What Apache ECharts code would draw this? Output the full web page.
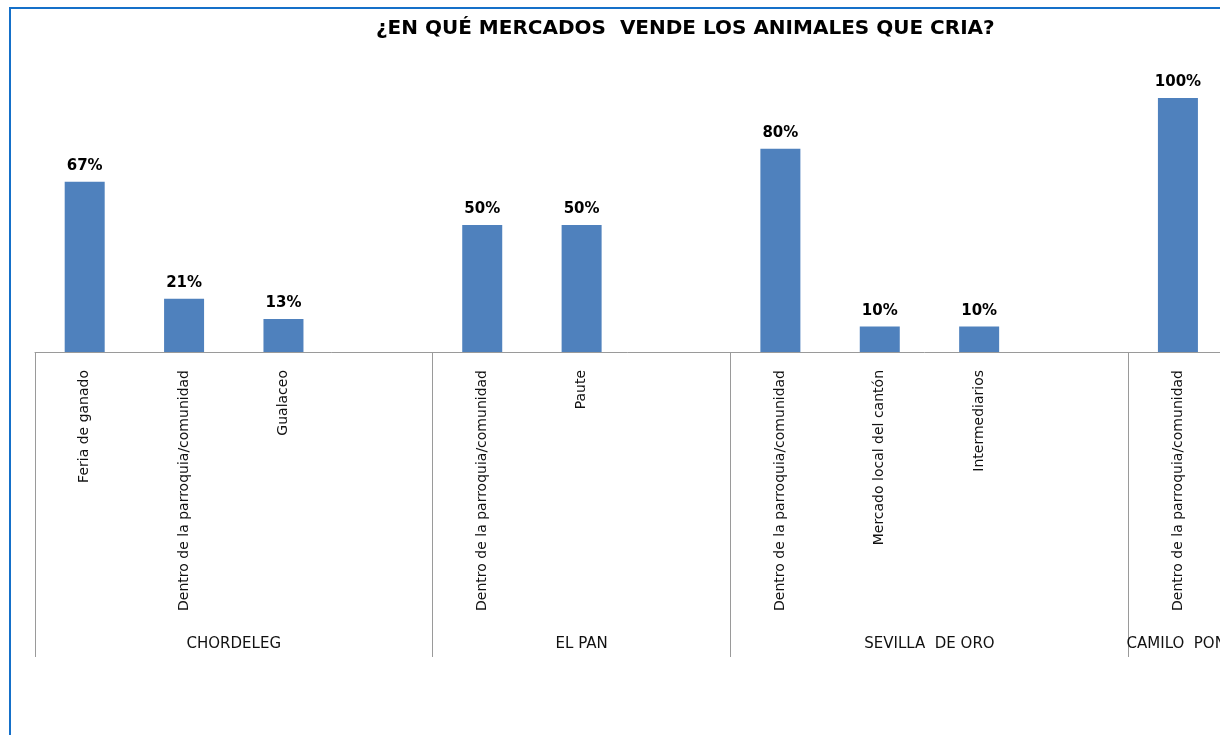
<!DOCTYPE html>
<html><head><meta charset="utf-8">
<script src="https://cdn.jsdelivr.net/npm/echarts@6/dist/echarts.min.js"></script>
<style>html,body{margin:0;padding:0;background:#fff}#c{width:1220px;height:735px}</style>
</head><body><div id="c"></div>
<script>
const titleText = '¿EN QUÉ MERCADOS  VENDE LOS ANIMALES QUE CRIA?';
const categories = [
  'Feria de ganado', 'Dentro de la parroquia/comunidad', 'Gualaceo', '',
  'Dentro de la parroquia/comunidad', 'Paute', '',
  'Dentro de la parroquia/comunidad', 'Mercado local del cantón', 'Intermediarios', '',
  'Dentro de la parroquia/comunidad', ''
];
const values = [67, 21, 13, null, 50, 50, null, 80, 10, 10, null, 100, null];
const groups = ['CHORDELEG', 'EL PAN', 'SEVILLA  DE ORO', 'CAMILO  PONCE ENRIQUEZ'];
const groupSpans = [4, 3, 4, 2];

const N = categories.length;
const boundaryIdx = new Set();
const centerIdx = {};
let acc = 0;
groupSpans.forEach((s, i) => { boundaryIdx.add(acc * 2); centerIdx[acc * 2 + s] = groups[i]; acc += s; });
boundaryIdx.add(acc * 2);
const halfCats = [];
for (let i = 0; i <= 2 * N; i++) halfCats.push('h' + i);

const FONT = 'DejaVu Sans';
const chart = echarts.init(document.getElementById('c'), null, {renderer: 'canvas'});
chart.setOption({
  animation: false,
  backgroundColor: '#fff',
  title: {
    text: titleText, left: 371, top: 14,
    textStyle: {fontFamily: FONT, fontSize: 20, fontWeight: 'bold', color: '#000'}
  },
  graphic: [{
    type: 'rect', silent: true, z: 100,
    shape: {x: 10, y: 8, width: 1400, height: 900},
    style: {fill: 'none', stroke: '#1570c9', lineWidth: 2}
  }],
  grid: {left: 35, top: 98, width: 1292, height: 254, containLabel: false, outerBoundsMode: 'none'},
  xAxis: [{
    type: 'category', data: categories, position: 'bottom',
    axisLine: {lineStyle: {color: '#9a9a9a', width: 1}},
    axisTick: {show: false},
    axisLabel: {rotate: 90, interval: 0, margin: 18, fontFamily: FONT, fontSize: 14, color: '#111'}
  }, {
    type: 'category', data: halfCats, boundaryGap: false, position: 'bottom',
    axisLine: {show: false},
    axisTick: {show: true, length: 305, interval: (i) => boundaryIdx.has(i), lineStyle: {color: '#9a9a9a', width: 1}},
    axisLabel: {interval: (i) => (i in centerIdx), formatter: (v, i) => centerIdx[i] || '', margin: 285,
      fontFamily: FONT, fontSize: 15, color: '#111'}
  }],
  yAxis: {type: 'value', min: 0, max: 100, show: false},
  series: [{
    type: 'bar', xAxisIndex: 0, data: values, barWidth: 40,
    itemStyle: {color: '#4f81bd'},
    label: {show: true, position: 'top', distance: 8, formatter: '{c}%',
      fontFamily: FONT, fontSize: 15, fontWeight: 'bold', color: '#000'}
  }]
});
</script></body></html>
